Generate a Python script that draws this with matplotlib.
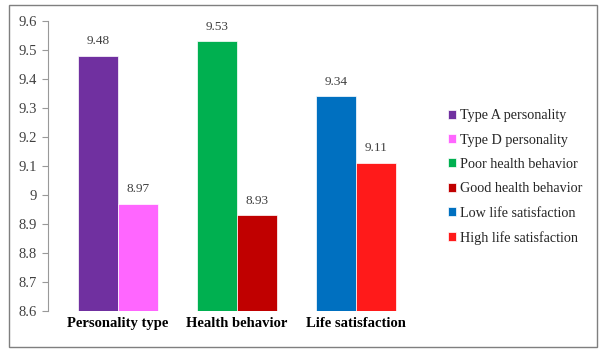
import matplotlib
matplotlib.use("Agg")
import matplotlib.pyplot as plt
from matplotlib.patches import Rectangle

# data
groups = ["Personality type", "Health behavior", "Life satisfaction"]
series_names = ["Type A personality", "Type D personality",
                "Poor health behavior", "Good health behavior",
                "Low life satisfaction", "High life satisfaction"]
series_values = [9.48, 8.97, 9.53, 8.93, 9.34, 9.11]
series_group = [0, 0, 1, 1, 2, 2]
series_side = [-1, 1, -1, 1, -1, 1]
colors = ["#7030A0", "#FF66FF", "#00B050", "#C00000", "#0070C0", "#FF1A1A"]
yticks = [8.6, 8.7, 8.8, 8.9, 9.0, 9.1, 9.2, 9.3, 9.4, 9.5, 9.6]
ytick_labels = ["8.6", "8.7", "8.8", "8.9", "9", "9.1", "9.2", "9.3", "9.4", "9.5", "9.6"]

plt.rcParams['font.family'] = ['Liberation Serif', 'DejaVu Serif']

fig = plt.figure(figsize=(6.02, 3.5), dpi=100)
# outer chart frame
fig.patches.append(Rectangle((9 / 602, 3 / 350), 588 / 602, 342 / 350,
                             transform=fig.transFigure, fill=False,
                             edgecolor="#7f7f7f", linewidth=1.0))

ax = fig.add_axes([48 / 602, 39 / 350, 378 / 602, 290 / 350])

width = 0.336
for name, val, g, s, c in zip(series_names, series_values, series_group,
                              series_side, colors):
    x = g + s * width / 2
    ax.bar(x, val - 8.6, width, bottom=8.6, color=c, label=name,
           edgecolor="white", linewidth=0.5)
    ax.text(x, val + 0.03, f"{val:.2f}", ha="center", va="bottom",
            fontsize=9.5, color="#404040")

ax.set_ylim(8.6, 9.6)
ax.set_xlim(-0.588, 2.588)
ax.set_yticks(yticks)
ax.set_yticklabels(ytick_labels, fontsize=10.5, color="#404040")
ax.set_xticks(range(len(groups)))
ax.set_xticklabels(groups, fontsize=10.5, fontweight="bold")
ax.tick_params(axis="x", length=0, pad=4)
ax.tick_params(axis="y", length=4, color="#999999", pad=4)

for side in ["top", "right", "bottom"]:
    ax.spines[side].set_visible(False)
ax.spines["left"].set_color("#999999")

leg = ax.legend(loc="center left", bbox_to_anchor=(435 / 602, 173 / 350),
                bbox_transform=fig.transFigure, frameon=False,
                fontsize=10.2, handlelength=0.6, handleheight=0.6,
                handletextpad=0.3, labelspacing=0.8)
for t in leg.get_texts():
    t.set_color("#262626")

fig.savefig("out.png", dpi=100)
